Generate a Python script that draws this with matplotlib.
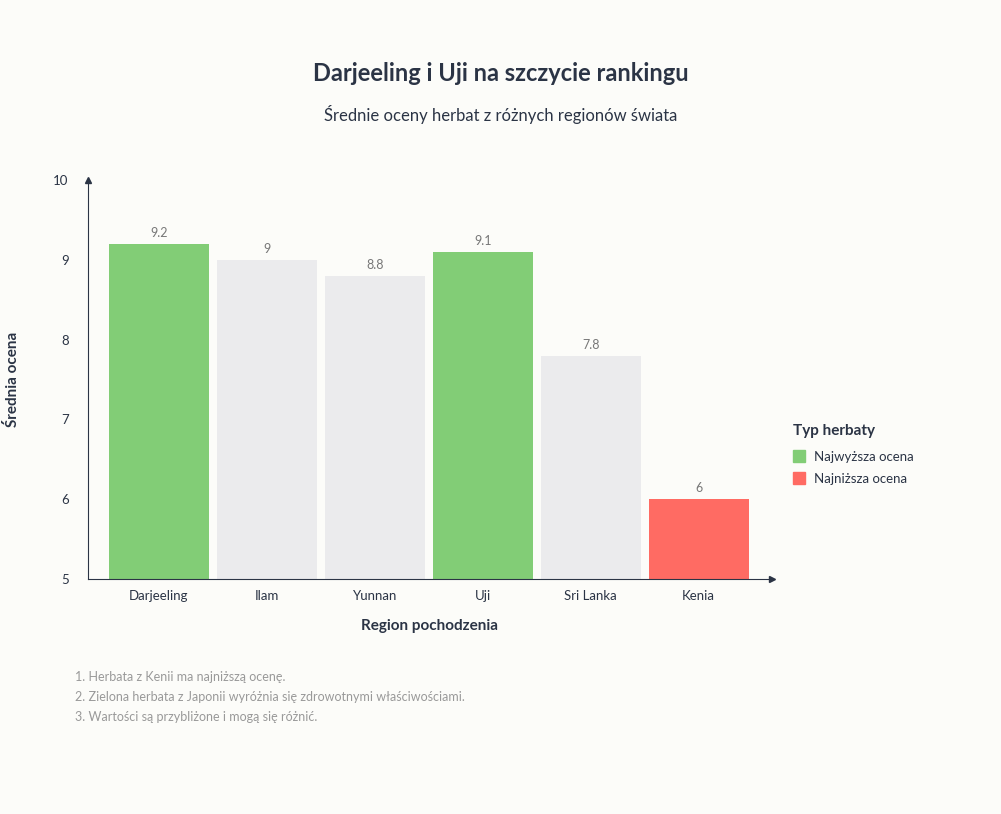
import matplotlib.pyplot as plt

regions = ["Darjeeling", "Ilam", "Yunnan", "Uji", "Sri Lanka", "Kenia"]
scores = [9.2, 9.0, 8.8, 9.1, 7.8, 6.0]
score_labels = ["9.2", "9", "8.8", "9.1", "7.8", "6"]
kinds = ["top", "mid", "mid", "top", "mid", "low"]
notes = [
    "1. Herbata z Kenii ma najniższą ocenę.",
    "2. Zielona herbata z Japonii wyróżnia się zdrowotnymi właściwościami.",
    "3. Wartości są przybliżone i mogą się różnić.",
]

colors = {"top": "#82cd76", "mid": "#ebebed", "low": "#ff6b63"}
dark = "#2b3445"
bg = "#fcfcf9"
plt.rcParams["font.family"] = "Lato"

fig = plt.figure(figsize=(10.01, 8.14), dpi=100, facecolor=bg)
ax = fig.add_axes([0.0879, 0.2887, 0.683, 0.490], facecolor=bg)

ax.bar(range(len(regions)), [s - 5 for s in scores], bottom=5, width=0.926,
       color=[colors[k] for k in kinds])
for i, (s, lab) in enumerate(zip(scores, score_labels)):
    ax.text(i, s + 0.06, lab, ha="center", va="bottom", fontsize=9, color="#777777")

ax.set_xlim(-0.657, 5.676)
ax.set_ylim(5, 10)
ax.set_yticks([5, 6, 7, 8, 9, 10])
ax.set_xticks(range(len(regions)))
ax.set_xticklabels(regions)
ax.tick_params(length=0, labelsize=9.5, colors=dark, pad=8)
ax.tick_params(axis="y", pad=14)
for sp in ["top", "right"]:
    ax.spines[sp].set_visible(False)
for sp in ["left", "bottom"]:
    ax.spines[sp].set_color(dark)
ax.plot(1, 0, ">", color=dark, transform=ax.transAxes, clip_on=False, ms=5)
ax.plot(0, 1, "^", color=dark, transform=ax.transAxes, clip_on=False, ms=5)

ax.set_xlabel("Region pochodzenia", fontsize=11, fontweight="bold", color=dark, labelpad=12)
ax.set_ylabel("Średnia ocena", fontsize=11, fontweight="bold", color=dark, labelpad=24)

fig.text(0.5, 0.9, "Darjeeling i Uji na szczycie rankingu", ha="center",
         fontsize=17, fontweight="bold", color=dark)
fig.text(0.5, 0.851, "Średnie oceny herbat z różnych regionów świata", ha="center",
         fontsize=12, color=dark)

fig.text(0.792, 0.465, "Typ herbaty", fontsize=11, fontweight="bold", color=dark)
for y, k, lab in [(0.438, "top", "Najwyższa ocena"), (0.411, "low", "Najniższa ocena")]:
    fig.patches.append(plt.Rectangle((0.792, y - 0.006), 0.012, 0.015,
                                     transform=fig.transFigure, color=colors[k]))
    fig.text(0.813, y, lab, fontsize=9.5, color=dark, va="center")

for i, n in enumerate(notes):
    fig.text(0.075, 0.168 - i * 0.0245, n, fontsize=9, color="#999999", va="center")

fig.savefig("out.png", facecolor=bg)
